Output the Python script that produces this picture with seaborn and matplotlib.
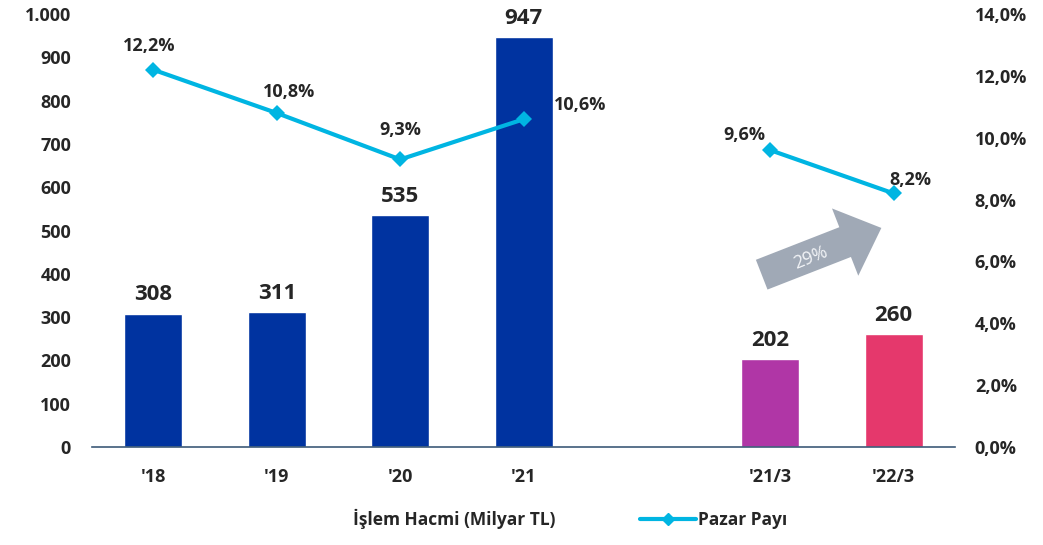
import matplotlib.pyplot as plt
import pandas as pd
import seaborn as sns
from matplotlib.lines import Line2D
from matplotlib.patches import Patch

# data
periods = ["'18", "'19", "'20", "'21", "'21/3", "'22/3"]
positions = [0, 1, 2, 3, 5, 6]
volume = [308, 311, 535, 947, 202, 260]
share = [12.2, 10.8, 9.3, 10.6, 9.6, 8.2]
segment = [1, 1, 1, 1, 2, 2]
bar_colors = ['#0033A0', '#0033A0', '#0033A0', '#0033A0', '#B036A6', '#E5386C']
growth_label = '29%'

sns.set_theme(style='white')
plt.rcParams['font.family'] = ['Open Sans', 'DejaVu Sans']

df = pd.DataFrame({'period': periods, 'pos': positions, 'volume': volume,
                   'share': share, 'segment': segment})

fig = plt.figure(figsize=(10.43, 5.45), dpi=100)
ax = fig.add_axes([0.088, 0.180, 0.828, 0.794])

sns.barplot(data=df, x='pos', y='volume', hue='period', palette=dict(zip(periods, bar_colors)),
            native_scale=True, dodge=False, width=0.47, legend=False, saturation=1, ax=ax)

ax.set_xlim(-0.5, 6.5)
ax.set_ylim(0, 1000)
ax.set_yticks(range(0, 1001, 100))
ax.set_yticklabels([f'{v:,}'.replace(',', '.') for v in range(0, 1001, 100)],
                   fontsize=13, fontweight='bold')
ax.set_xticks(positions)
ax.set_xticklabels(periods, fontsize=13, fontweight='bold')
ax.tick_params(axis='x', pad=15, length=0)
ax.tick_params(axis='y', pad=15, length=0)
ax.set_xlabel('')
ax.set_ylabel('')
for s in ['top', 'right', 'left']:
    ax.spines[s].set_visible(False)
ax.spines['bottom'].set_color('#3D5A78')
ax.spines['bottom'].set_linewidth(1.2)

for p, v in zip(positions, volume):
    ax.annotate(f'{v}', (p, v), xytext=(0, 6), textcoords='offset points',
                ha='center', va='bottom', fontsize=16, fontweight='bold')

ax2 = ax.twinx()
sns.lineplot(data=df, x='pos', y='share', units='segment', estimator=None,
             color='#00B5E2', linewidth=3, marker='D', markersize=8,
             markeredgewidth=0, ax=ax2)
ax2.set_ylim(0, 14)
ax2.set_yticks(range(0, 15, 2))
ax2.set_yticklabels([f'{v:.1f}%'.replace('.', ',') for v in range(0, 15, 2)],
                    fontsize=13, fontweight='bold')
ax2.tick_params(axis='y', pad=14, length=0)
ax2.set_xlabel('')
ax2.set_ylabel('')
for s in ax2.spines.values():
    s.set_visible(False)

offsets = [(-3, 17, 'center'), (9, 15, 'center'), (0, 21, 'center'),
           (22, 10, 'left'), (-19, 11, 'center'), (12, 10, 'center')]
for p, v, (dx, dy, ha) in zip(positions, share, offsets):
    ax2.annotate(f'{v:.1f}%'.replace('.', ','), (p, v), xytext=(dx, dy), textcoords='offset points',
                 ha=ha, va='center', fontsize=13, fontweight='bold')

# growth arrow
ax.annotate('', xy=(5.9, 506), xytext=(4.93, 398),
            arrowprops=dict(arrowstyle='simple,head_length=0.28,head_width=0.52,tail_width=0.23',
                            mutation_scale=100, color='#A0A9B6', shrinkA=0, shrinkB=0, lw=0))
ax.text(5.33, 438, growth_label, rotation=22, ha='center', va='center',
        fontsize=13, color='#F2F4F7')

handles = [Patch(facecolor='none', edgecolor='none'),
           Line2D([0], [0], color='#00B5E2', linewidth=3, marker='D', markersize=6)]
fig.legend(handles, ['İşlem Hacmi (Milyar TL)', 'Pazar Payı'], loc='lower center',
           bbox_to_anchor=(0.519, 0.0), ncol=2, frameon=False, handlelength=3.2,
           columnspacing=4.9, handletextpad=0.1,
           prop={'weight': 'bold', 'size': 12.5})

fig.savefig('out.png', dpi=100)
